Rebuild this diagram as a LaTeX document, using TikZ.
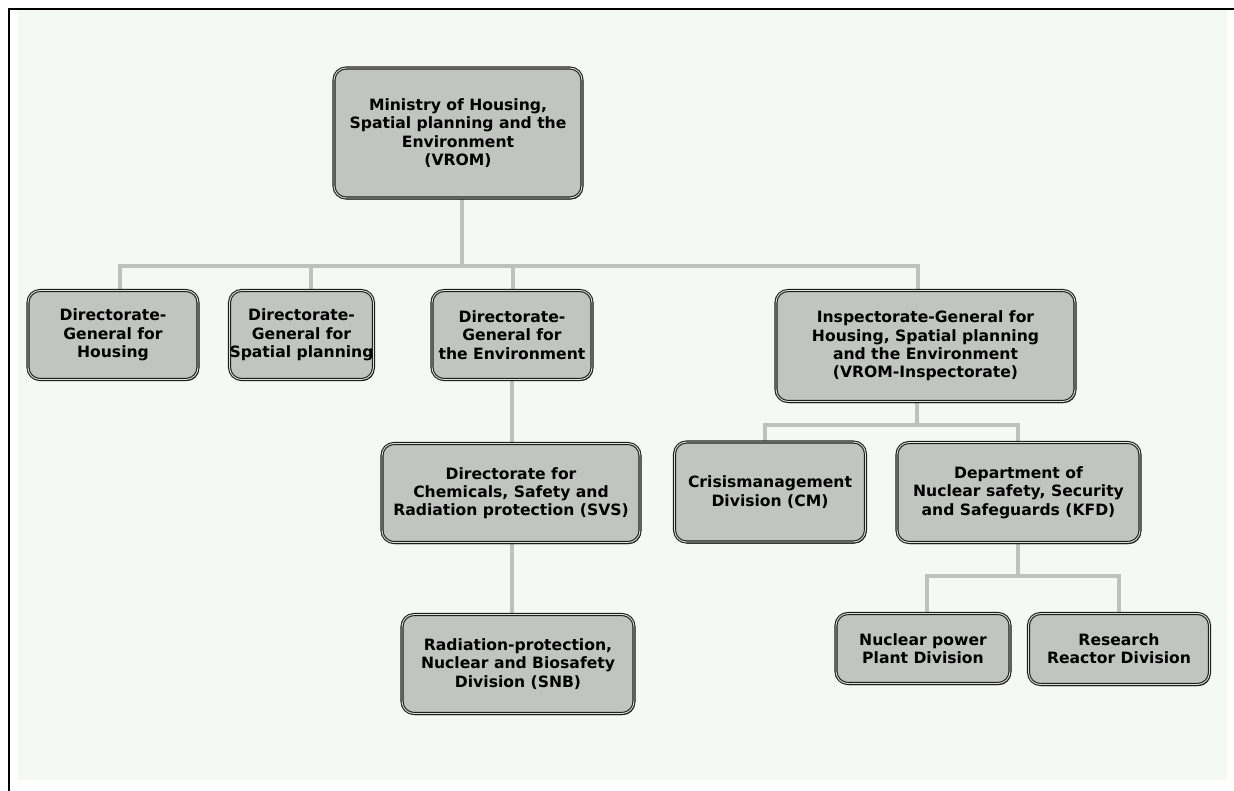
\documentclass[tikz,border=0pt]{standalone}
\usepackage{fontspec}
\setmainfont{DejaVu Sans}
\usepackage{tikz}
\usetikzlibrary{shadows,backgrounds}
\definecolor{paper}{RGB}{245,249,246}
\definecolor{boxgray}{RGB}{194,196,193}
\definecolor{wiregray}{RGB}{192,192,192}
\definecolor{rim}{RGB}{30,30,30}

\begin{document}
\begin{tikzpicture}[x=1pt,y=-1pt,
  org node/.style={rectangle,rounded corners=12pt,fill=boxgray,draw=rim,
    line width=1.1pt,double=boxgray!55!white,double distance=0.9pt,
    drop shadow={shadow xshift=1pt,shadow yshift=-1.5pt,fill=rim,opacity=1},
    align=center,inner sep=0pt,
    font=\bfseries\fontsize{15.6}{18.3}\selectfont},
  link/.style={draw=wiregray,line width=4pt}]
  \useasboundingbox (0,0) rectangle (1234,791);

  \node[org node,minimum width=248,minimum height=130] (vrom) at (458,133)
    {Ministry of Housing,\\Spatial planning and the\\Environment\\(VROM)};
  \node[org node,minimum width=170,minimum height=89] (hous) at (113,335)
    {Directorate-\\General for\\Housing};
  \node[org node,minimum width=143,minimum height=89] (spat) at (301.5,335)
    {Directorate-\\General for\\Spatial planning};
  \node[org node,minimum width=160,minimum height=89] (env) at (512,335)
    {Directorate-\\General for\\the Environment};
  \node[org node,minimum width=299,minimum height=111] (insp) at (925.5,346)
    {Inspectorate-General for\\Housing, Spatial planning\\and the Environment\\(VROM-Inspectorate)};
  \node[org node,minimum width=258,minimum height=99] (svs) at (511,493)
    {Directorate for\\Chemicals, Safety and\\Radiation protection (SVS)};
  \node[org node,minimum width=232,minimum height=99] (snb) at (518,664)
    {Radiation-protection,\\Nuclear and Biosafety\\Division (SNB)};
  \node[org node,minimum width=191,minimum height=100] (cm) at (770,492)
    {Crisismanagement\\Division (CM)};
  \node[org node,minimum width=243,minimum height=100] (kfd) at (1018.5,492.5)
    {Department of\\Nuclear safety, Security\\and Safeguards (KFD)};
  \node[org node,minimum width=174,minimum height=70] (npp) at (923,648.5)
    {Nuclear power\\Plant Division};
  \node[org node,minimum width=181,minimum height=71] (rrd) at (1119,649)
    {Research\\Reactor Division};

  \begin{scope}[on background layer]
    \fill[paper] (18,10) rectangle (1227,780);
    \draw[line width=2.6pt] (9,791) -- (9,9) -- (1234,9);

    \coordinate (top bus) at (462,266);
    \coordinate (insp bus) at (917,425);
    \coordinate (kfd bus) at (1018,576);

    \draw[link] (vrom.south -| top bus) -- (top bus);
    \draw[link] (top bus) -| ([xshift=7pt]hous.north);
    \draw[link] (top bus) -| ([xshift=9pt]spat.north);
    \draw[link] (top bus) -| ([xshift=1pt]env.north);
    \draw[link] (top bus) -| ([xshift=-8pt]insp.north);
    \draw[link] (env.south) -- (env.south |- svs.north);
    \draw[link] (env.south |- svs.south) -- (env.south |- snb.north);
    \draw[link] (insp.south -| insp bus) -- (insp bus);
    \draw[link] (insp bus) -| ([xshift=-5pt]cm.north);
    \draw[link] (insp bus) -| (kfd.north -| kfd bus);
    \draw[link] (kfd.south -| kfd bus) -- (kfd bus);
    \draw[link] (kfd bus) -| ([xshift=4pt]npp.north);
    \draw[link] (kfd bus) -| (rrd.north);
  \end{scope}
\end{tikzpicture}
\end{document}
